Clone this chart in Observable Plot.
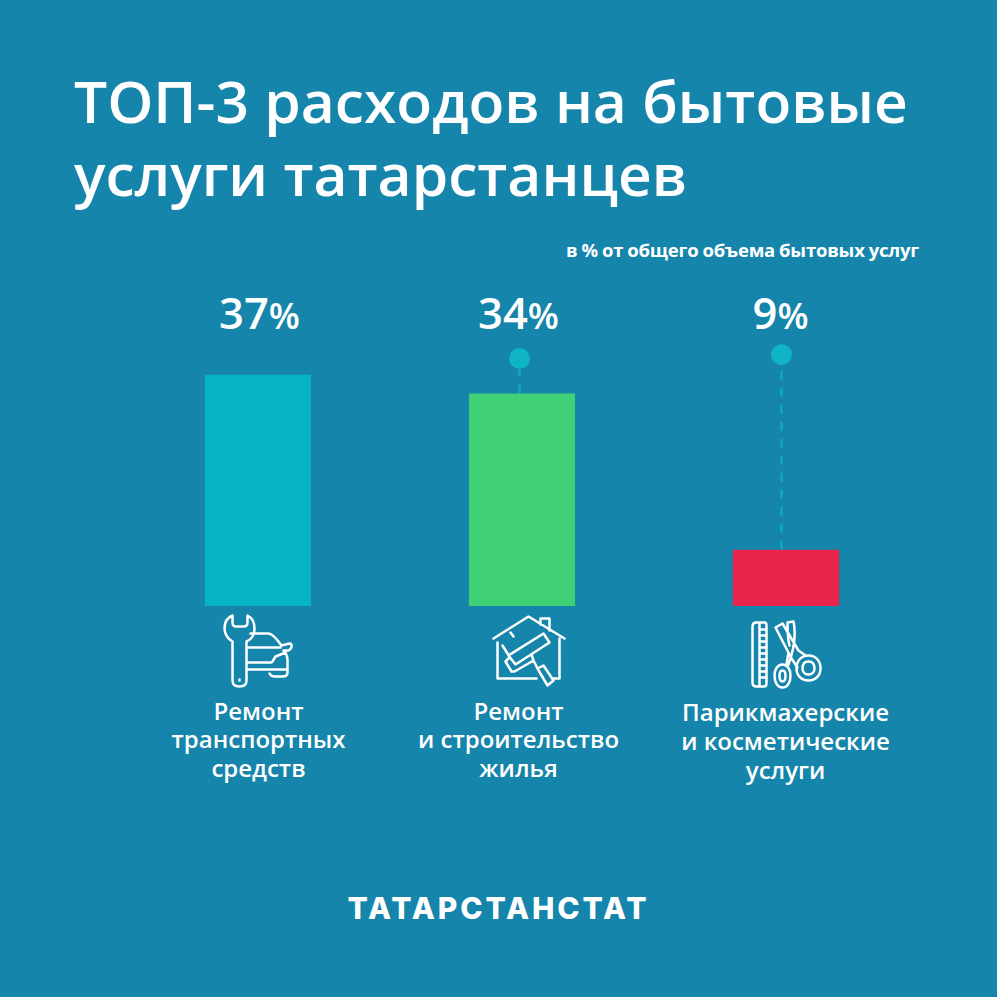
<!DOCTYPE html>
<html lang="ru"><head><meta charset="utf-8">
<script src="https://cdn.jsdelivr.net/npm/d3@7"></script>
<script src="https://cdn.jsdelivr.net/npm/@observablehq/plot@0.6"></script>
<style>
html,body{margin:0;padding:0;background:#1585ab;width:997px;height:997px;overflow:hidden}
body{font-family:"Open Sans",sans-serif;color:#fff}
#head{position:relative;height:270px}
#title{position:absolute;left:74px;top:64px;font-size:58.7px;line-height:73px;font-weight:600;white-space:nowrap;margin:0}
#sub{position:absolute;right:78px;top:238px;font-size:18.5px;line-height:24px;font-weight:700;letter-spacing:-.2px;word-spacing:-.6px;white-space:nowrap}
#foot{position:relative;height:167px;text-align:center}
#foot span{position:absolute;left:0;width:997px;top:58px;font-family:Inter,sans-serif;font-weight:800;font-size:30px;line-height:40px;letter-spacing:2.9px}
svg{display:block}
</style></head><body>
<div id="head"><h1 id="title">ТОП-3 расходов на бытовые<br>услуги татарстанцев</h1><div id="sub">в % от общего объема бытовых услуг</div></div>
<div id="chart"></div>
<div id="foot"><span>ТАТАРСТАНСТАТ</span></div>
<script>
const categories = ["Ремонт\nтранспортных\nсредств", "Ремонт\nи строительство\nжилья", "Парикмахерские\nи косметические\nуслуги"];
const values = [37, 34, 9];
const colors = ["#07b3c6", "#40d075", "#e8244a"];
const markerLevel = [null, 39.7, 40.3];
const valueRow = 46.7, iconRow = -7.04;
const labelRow = [-21.2, -21.2, -21.5];
const valueShift = [1, -4, -6];
const labelShift = [0, -4, -1];
const markerShift = [0, -3, -5];

const iconPaths = [
 `M232,615 C227,617 224,622 224,628 C224,634 228,639 232,641 L232,680 C232,684 235,686 239,686 C243,686 246,684 246,680 L246,641 C251,639 254,634 254,628 C254,622 251,617 247,615 L247,622 C247,625 245,626 243,626 L236,626 C233,626 232,625 232,622 Z M239,679 L239,680 M250,633 L268,633 C272,633 276,638 281,645 M248,647 L280,647 M281,645 L289,643 C292,643 292,648 288,650 L283,650 C286,653 287,656 287,660 L287,672 C287,675 285,676 282,676 L274,676 C271,676 270,675 269,673 M248,662 L271,662 M248,669 L285,669 M285,652 L275,656 L272,661`,
 `M493,638 L528,616 L564,638 M497,642 L497,678 L536,678 M553,678 L559,678 L559,638 M540,624 L540,618 L549,618 L549,630 M502,645 L507,653 M510,632 L513,636 M508,655 L543,633 L549,642 L515,664 Z M508,658 L505,661 L511,671 L514,671 L533,660 L531,654 M533,660 L537,668 M537,668 L543,665 L553,680 L547,685 Z`,
 `M756,622 L764,622 C766,622 766,624 766,625 L766,681 C766,684 766,686 764,686 L756,686 C753,686 752,684 752,682 L752,626 C752,624 753,622 756,622 Z M759,623 L759,685 M759,629 L766,629 M759,635 L766,635 M759,641 L766,641 M759,647 L766,647 M759,653 L766,653 M759,659 L766,659 M759,665 L766,665 M759,671 L766,671 M759,677 L766,677 M775,627 L782,623 L798,650 L805,655 M775,627 L791,658 L797,667 M787,622 L793,621 C796,635 793,650 788,664 M787,622 C787,630 787,638 789,645 M788,652 L786,664 M782,664 C777,664 774,669 774,675 C774,682 777,687 782,687 C787,687 790,682 790,675 C790,669 787,664 782,664 Z M782,670 C780,670 779,672 779,675 C779,679 780,681 782,681 C784,681 785,679 785,675 C785,672 784,670 782,670 Z M808,655 C801,655 796,660 796,668 C796,675 801,680 808,680 C815,680 820,675 820,668 C820,660 815,655 808,655 Z M808,661 C804,661 802,664 802,668 C802,671 804,674 808,674 C812,674 814,671 814,668 C814,664 812,661 808,661 Z`
];
const iconBoxes = ["208 600 100 100", "472 600 100 100", "736 600 100 100"];
const iconSrc = iconPaths.map((d, i) => "data:image/svg+xml," + encodeURIComponent(
  `<svg xmlns="http://www.w3.org/2000/svg" viewBox="${iconBoxes[i]}" width="100" height="100"><path d="${d}" fill="none" stroke="#fff" stroke-width="2.5" stroke-linecap="round" stroke-linejoin="round"/></svg>`));

const rows = categories.map((c, i) => ({category: c, value: values[i], color: colors[i], marker: markerLevel[i], icon: iconSrc[i], label: values[i] + "%", labelY: labelRow[i]}));
const each = (fn) => rows.map((r, i) => fn([r], i));

const plot = Plot.plot({
  width: 997, height: 560, margin: 0,
  style: {background: "transparent", overflow: "visible"},
  x: {type: "band", domain: categories, range: [126, 918], paddingInner: 0.598, paddingOuter: 0.299, round: false, axis: null},
  y: {domain: [0, 50], range: [336, 23.5], axis: null},
  marks: [
    ...each((d, i) => d[0].marker == null ? null : Plot.ruleX(d, {x: "category", y1: "value", y2: "marker", dx: markerShift[i], stroke: "#10a9c2", strokeWidth: 2.4, strokeDasharray: "9 8"})),
    ...each((d, i) => d[0].marker == null ? null : Plot.dot(d, {x: "category", y: "marker", dx: markerShift[i], r: 10.5, fill: "#0fb4c5", stroke: "none"})),
    Plot.barY(rows, {x: "category", y: "value", fill: "color"}),
    ...each((d, i) => Plot.text(d, {x: "category", y: () => valueRow, text: "label", dx: valueShift[i], fill: "#fff", fontSize: 43.5, fontWeight: 600, fontFamily: "Open Sans", className: "pct"})),
    Plot.image(rows, {x: "category", y: () => iconRow, src: "icon", width: 100, height: 100}),
    ...each((d, i) => Plot.text(d, {x: "category", y: "labelY", text: "category", dx: labelShift[i], fill: "#fff", fontSize: 24, fontWeight: 600, lineHeight: 1.19, fontFamily: "Open Sans"}))
  ].filter(Boolean)
});
d3.select(plot).selectAll(".pct text").each(function () {
  const t = d3.select(this), s = t.text(), num = s.replace("%", "");
  t.text(num);
  t.append("tspan").attr("font-size", 36).text("%");
});
document.getElementById("chart").append(plot);
</script>
</body></html>
